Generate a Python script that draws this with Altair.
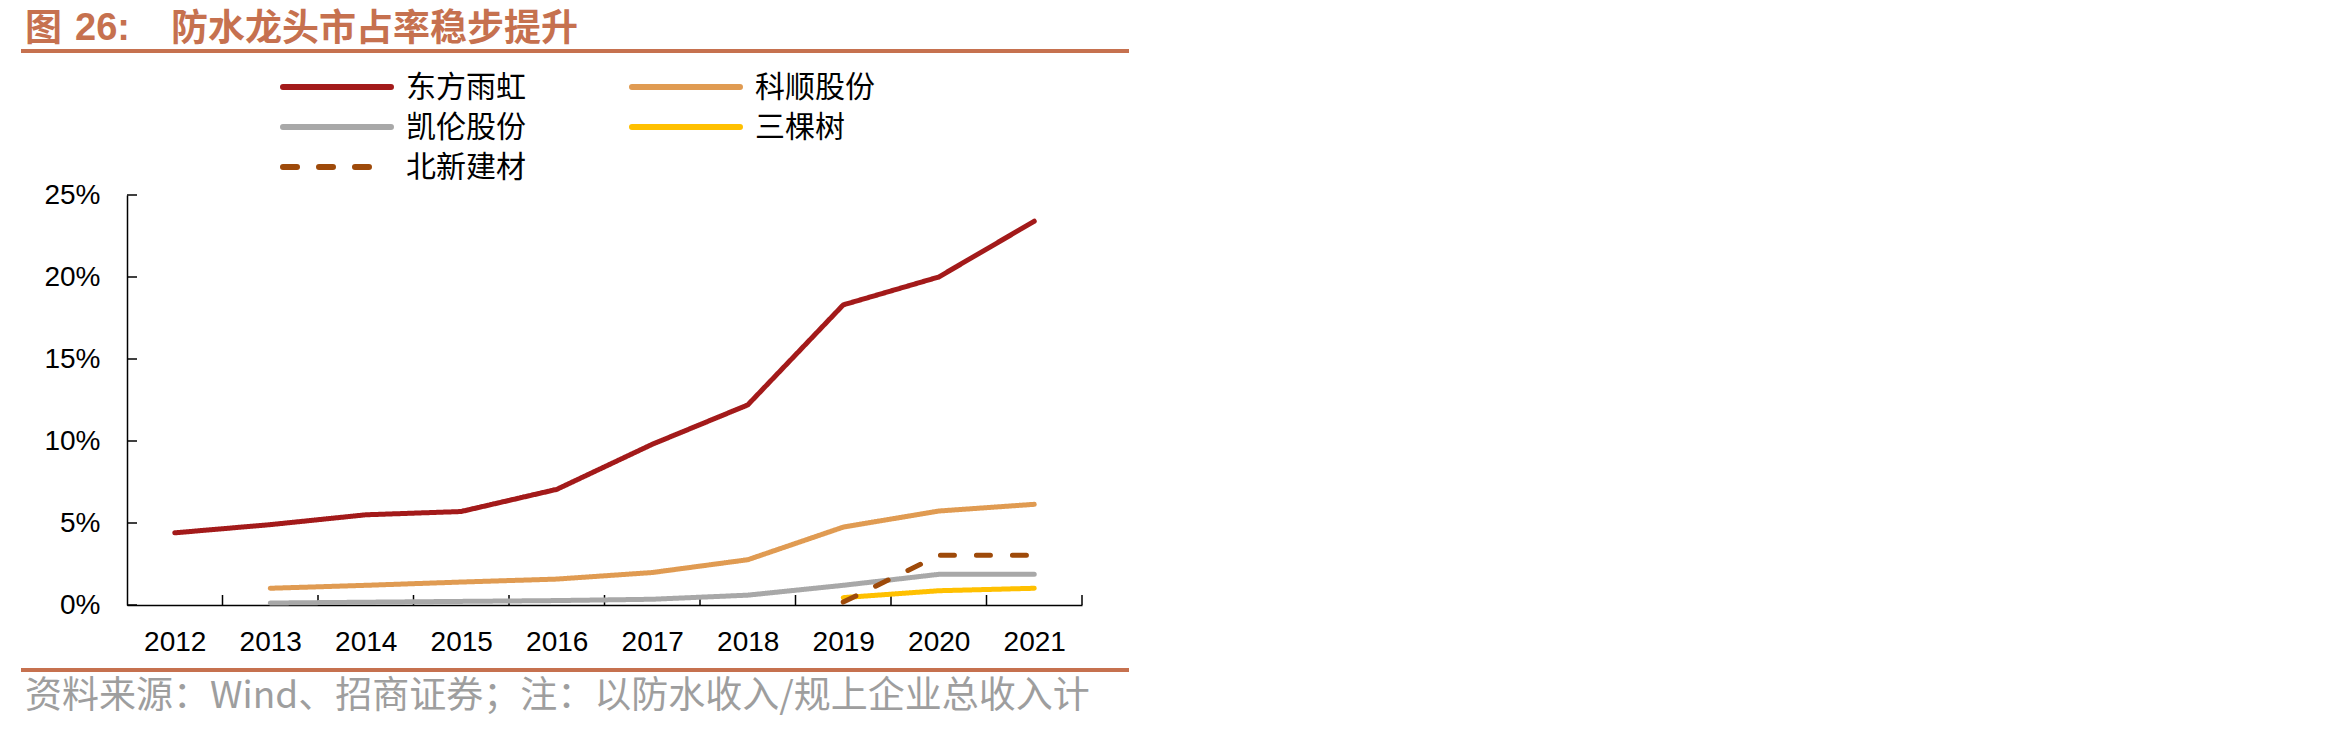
import altair as alt
import pandas as pd

# ---- data ----
years = [2012, 2013, 2014, 2015, 2016, 2017, 2018, 2019, 2020, 2021]
series_names = ["东方雨虹", "科顺股份", "凯伦股份", "三棵树", "北新建材"]
dongfang = [4.4, 4.9, 5.5, 5.7, 7.05, 9.8, 12.2, 18.3, 20.0, 23.4]
keshun = [None, 1.02, 1.2, 1.4, 1.58, 1.98, 2.76, 4.75, 5.73, 6.14]
kailun = [None, 0.12, 0.17, 0.22, 0.27, 0.35, 0.6, 1.2, 1.87, 1.87]
sankeshu = [None, None, None, None, None, None, None, 0.45, 0.87, 1.02]
beixin = [None, None, None, None, None, None, None, 0.18, 3.03, 3.03]
y_ticks = [0, 0.05, 0.10, 0.15, 0.20, 0.25]

colors = ["#A31A1A", "#E09B52", "#A8A8A8", "#FFC000", "#9E4A0A"]
dashes = [[1, 0], [1, 0], [1, 0], [1, 0], [14, 22]]

title_num = "图"
title_digits = "26:"
title_text = "防水龙头市占率稳步提升"
footer = "资料来源：Wind、招商证券；注：以防水收入/规上企业总收入计"

# ---- build long table ----
rows = []
for name, vals in zip(series_names, [dongfang, keshun, kailun, sankeshu, beixin]):
    for yr, v in zip(years, vals):
        if v is not None:
            rows.append({"year": yr, "value": v / 100.0, "name": name})
df = pd.DataFrame(rows)

boundaries = pd.DataFrame({"b": [y + 0.5 for y in years]})
yt = pd.DataFrame({"t": y_ticks})

W, H = 955, 410
CJK = "Noto Sans CJK SC"
LAT = "Liberation Sans"

xscale = alt.Scale(domain=[years[0] - 0.5, years[-1] + 0.5], nice=False, zero=False)
yscale = alt.Scale(domain=[0, 0.25], nice=False)

lines = alt.Chart(df).mark_line(strokeWidth=5, strokeCap="round", strokeJoin="round").encode(
    x=alt.X("year:Q", scale=xscale,
            axis=alt.Axis(values=years, format="d", tickSize=0, grid=False, title=None,
                          labelFont=LAT, labelFontSize=28, labelColor="black",
                          labelPadding=23, domainColor="black", domainWidth=1.5,
                          labelFlush=False)),
    y=alt.Y("value:Q", scale=yscale,
            axis=alt.Axis(values=y_ticks, format=".0%", tickSize=0, grid=False, title=None,
                          labelFont=LAT, labelFontSize=28, labelColor="black",
                          labelPadding=27, domainColor="black", domainWidth=1.5)),
    color=alt.Color("name:N", scale=alt.Scale(domain=series_names, range=colors), legend=None),
    strokeDash=alt.StrokeDash("name:N", scale=alt.Scale(domain=series_names, range=dashes), legend=None),
    order=alt.value(0),
)

# inward ticks
xticks = alt.Chart(boundaries).mark_rule(color="black", strokeWidth=1.5).encode(
    x=alt.X("b:Q", scale=xscale), y=alt.value(H), y2=alt.value(H - 10))
yticks = alt.Chart(yt).mark_rule(color="black", strokeWidth=1.5).encode(
    y=alt.Y("t:Q", scale=yscale), x=alt.value(0), x2=alt.value(10))

layers = [xticks, yticks, lines]

# manual legend
one = pd.DataFrame({"k": [0]})
for i, (name, c, d) in enumerate(zip(series_names, colors, dashes)):
    col, row = i % 2, i // 2
    x0 = 156 + col * 349
    yy = -108 + row * 40
    layers.append(alt.Chart(one).mark_rule(strokeWidth=6, strokeCap="round", color=c,
                                           strokeDash=d).encode(
        x=alt.value(x0), x2=alt.value(x0 + 108), y=alt.value(yy)))
    layers.append(alt.Chart(one).mark_text(align="left", baseline="middle", font=CJK,
                                           fontSize=30, color="black", text=name).encode(
        x=alt.value(x0 + 123), y=alt.value(yy + 1)))

# title
tcol = "#C6714F"
layers.append(alt.Chart(one).mark_text(align="left", baseline="middle", font=CJK, fontSize=37,
                                       fontWeight="bold", color=tcol, text=title_num).encode(
    x=alt.value(-102), y=alt.value(-165)))
layers.append(alt.Chart(one).mark_text(align="left", baseline="middle", font=LAT, fontSize=38,
                                       fontWeight="bold", color=tcol, text=title_digits).encode(
    x=alt.value(-52), y=alt.value(-166)))
layers.append(alt.Chart(one).mark_text(align="left", baseline="middle", font=CJK, fontSize=37,
                                       fontWeight="bold", color=tcol, text=title_text).encode(
    x=alt.value(44), y=alt.value(-165)))
layers.append(alt.Chart(one).mark_rule(strokeWidth=4, color=tcol).encode(
    x=alt.value(-106), x2=alt.value(1002), y=alt.value(-144)))
# footer
layers.append(alt.Chart(one).mark_rule(strokeWidth=4, color=tcol).encode(
    x=alt.value(-106), x2=alt.value(1002), y=alt.value(475)))
layers.append(alt.Chart(one).mark_text(align="left", baseline="middle", font=CJK, fontSize=37,
                                       color="#9E9E9E", text=footer).encode(
    x=alt.value(-102), y=alt.value(502)))

chart = alt.layer(*layers).properties(
    width=W, height=H,
    autosize=alt.AutoSizeParams(type="none"),
    padding={"left": 127, "top": 195, "right": 2350 - 127 - W, "bottom": 730 - 195 - H},
    background="white",
).configure_view(stroke=None)

chart.save("out.html", embed_options={"renderer": "svg", "actions": False})
